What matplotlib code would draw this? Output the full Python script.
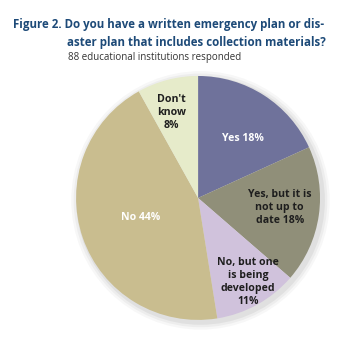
import matplotlib
matplotlib.use("Agg")
import matplotlib.pyplot as plt
from matplotlib.patches import Circle

categories = ["Yes", "Yes, but it is\nnot up to\ndate", "No, but one\nis being\ndeveloped", "No", "Don't\nknow"]
values = [18, 18, 11, 44, 8]
colors = ["#6f729b", "#908f79", "#d0c2dc", "#c9bd8f", "#e6ebca"]
text_colors = ["white", "#1e1e1e", "#1e1e1e", "white", "#1e1e1e"]
label_sep = [" ", " ", "\n", " ", "\n"]
label_pos = [(0.37, 0.49), (0.67, -0.08), (0.41, -0.69), (-0.47, -0.16), (-0.22, 0.70)]

fig = plt.figure(figsize=(3.5, 3.46), dpi=100)
fig.patch.set_facecolor("white")

fam = ["Open Sans", "DejaVu Sans"]
fig.text(0.037, 0.928, "Figure 2. Do you have a written emergency plan or dis-",
         fontsize=8.3, fontweight="bold", color="#1d4a78", family=fam, va="center", ha="left")
fig.text(0.192, 0.878, "aster plan that includes collection materials?",
         fontsize=8.3, fontweight="bold", color="#1d4a78", family=fam, va="center", ha="left")
fig.text(0.194, 0.833, "88 educational institutions responded",
         fontsize=7.0, color="#333333", family=fam, va="center", ha="left")

ax = fig.add_axes([0.566 - 0.3486, 0.428 - 0.3526, 0.697, 0.705])

# soft shadow
for i, a in enumerate([0.03, 0.04, 0.05]):
    ax.add_patch(Circle((0.02, -0.02), 1.0 + 0.02 * (3 - i), color="#000000", alpha=a, lw=0,
                        zorder=0, clip_on=False))

wedges, _ = ax.pie(values, colors=colors, startangle=90, counterclock=False, radius=1.0,
                   wedgeprops=dict(linewidth=0))
for w in wedges:
    w.set_zorder(2)
    w.set_clip_on(False)

ax.set_xlim(-1, 1)
ax.set_ylim(-1, 1)
ax.set_aspect("equal")
ax.axis("off")

for cat, v, sep, (x, y), tc in zip(categories, values, label_sep, label_pos, text_colors):
    lbl = f"{cat}{sep}{v}%"
    ax.text(x, y, lbl, ha="center", va="center", fontsize=7.6, fontweight="bold",
            color=tc, family=fam, linespacing=1.28, zorder=3)

fig.savefig("out.png", dpi=100, facecolor="white")
